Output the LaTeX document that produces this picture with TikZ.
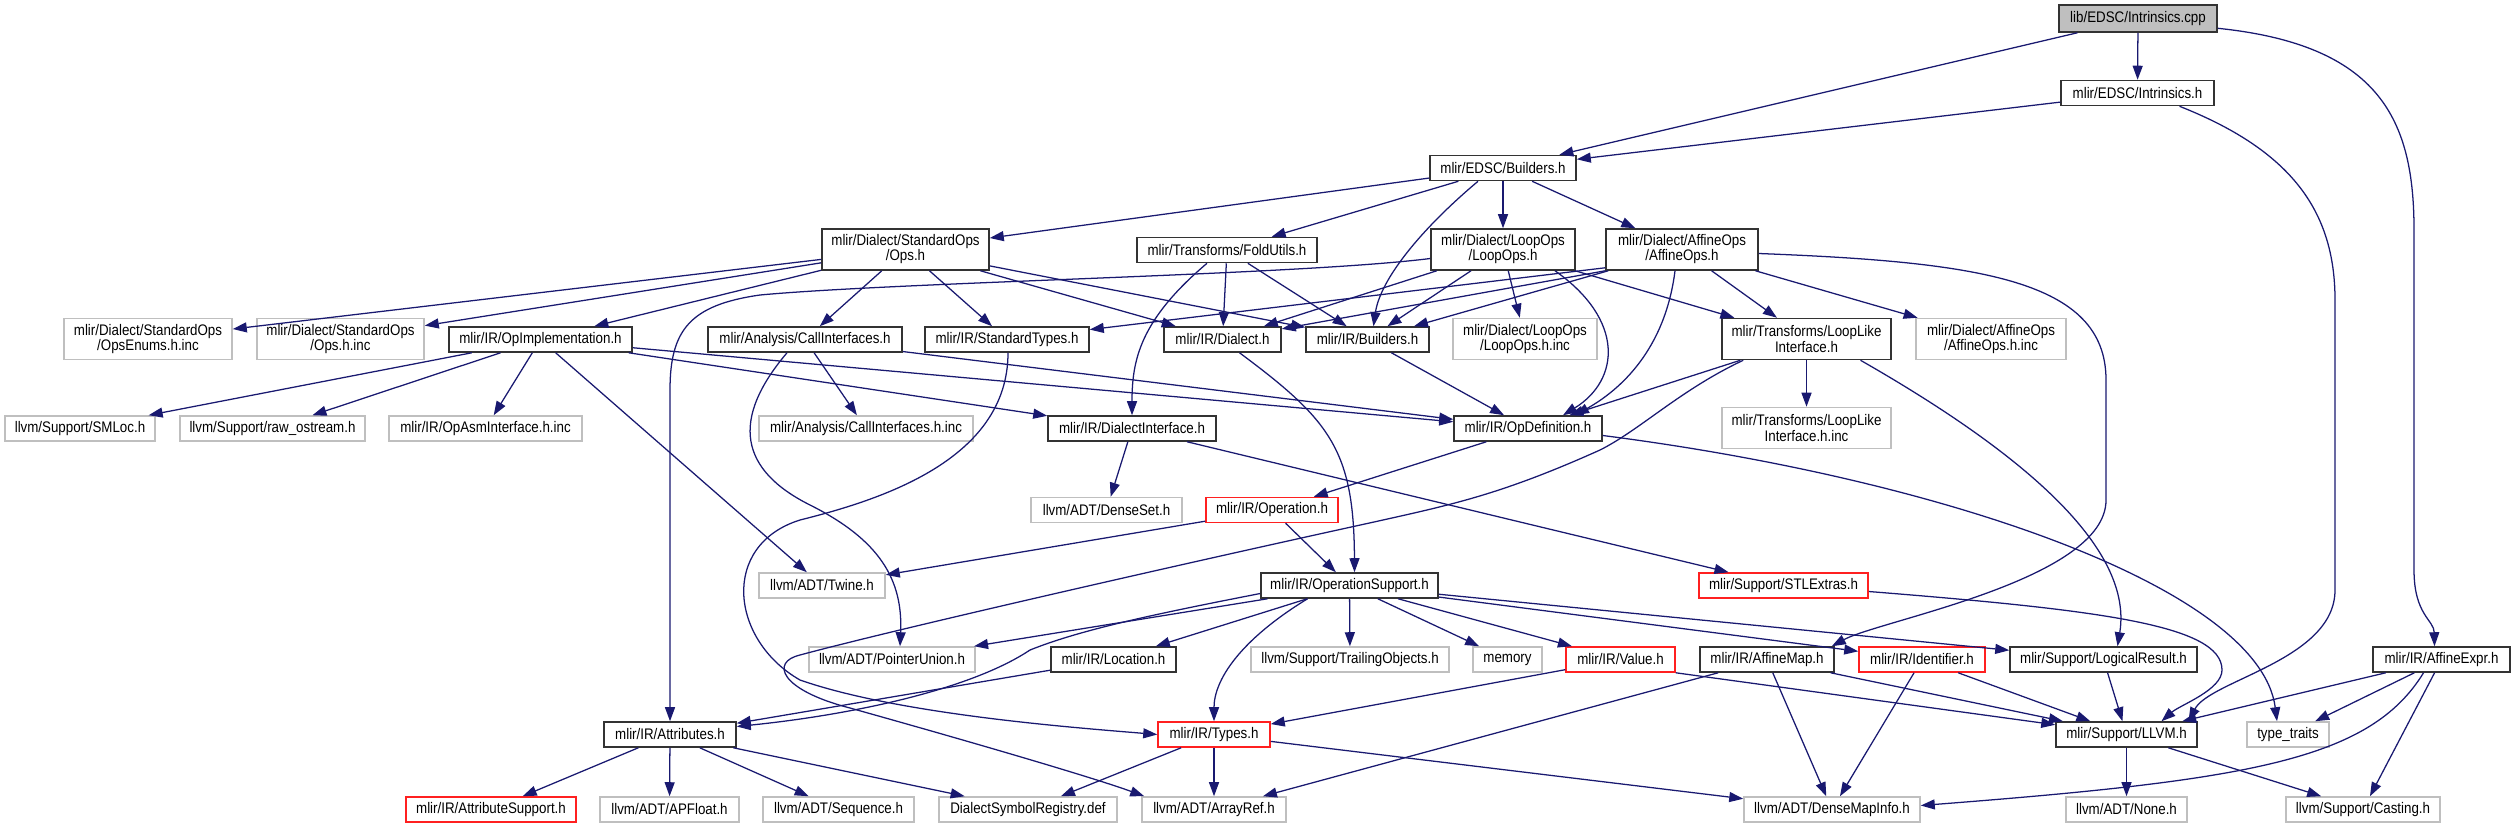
\documentclass[tikz,border=0pt]{standalone}
\usepackage{fontspec}
\newfontfamily\dotsans{Liberation Sans}[FakeStretch=0.87]
\usetikzlibrary{arrows.meta,calc}
\definecolor{cedge}{HTML}{191970}
\definecolor{cgray}{HTML}{BFBFBF}
\definecolor{cred}{HTML}{FF2020}
\definecolor{cfrm}{HTML}{333333}
\tikzset{
  hfile/.style={rectangle, draw=cfrm, fill=white, line width=1.1pt, inner sep=0pt,
                align=center, minimum height=6.25mm, font={\dotsans\fontsize{10.9pt}{10.7pt}\selectfont}},
  sysinc/.style={hfile, draw=cgray},
  cut/.style={hfile, draw=cred},
  rootfile/.style={hfile, fill=cgray, minimum height=6.75mm},
  dbl/.style={minimum height=10.25mm},
  wd/.style={minimum width=#1*0.25mm},
  dep/.style={-{Triangle[length=3.5mm,width=2.5mm]}, draw=cedge, line width=0.9pt}
}
\begin{document}
\begin{tikzpicture}[x=0.25mm, y=-0.25mm]
\useasboundingbox (0,0) rectangle (2516,828);
\node[rootfile, wd=158] (cpp) at (2138,18.5) {lib/EDSC/Intrinsics.cpp};
\node[hfile, wd=153] (intr) at (2137.5,93) {mlir/EDSC/Intrinsics.h};
\node[hfile, wd=146] (eb) at (1503,168) {mlir/EDSC/Builders.h};
\node[hfile, dbl, wd=167] (sops) at (905.5,249.5) {mlir/Dialect/StandardOps\\/Ops.h};
\node[hfile, wd=180] (fold) at (1227,250) {mlir/Transforms/FoldUtils.h};
\node[hfile, dbl, wd=144] (lops) at (1503,249.5) {mlir/Dialect/LoopOps\\/LoopOps.h};
\node[hfile, dbl, wd=152] (aops) at (1682,249.5) {mlir/Dialect/AffineOps\\/AffineOps.h};
\node[sysinc, dbl, wd=168] (enums) at (148,339) {mlir/Dialect/StandardOps\\/OpsEnums.h.inc};
\node[sysinc, dbl, wd=167] (opsinc) at (340.5,339) {mlir/Dialect/StandardOps\\/Ops.h.inc};
\node[hfile, wd=183] (oimpl) at (540.5,339.5) {mlir/IR/OpImplementation.h};
\node[hfile, wd=194] (calli) at (805,339.5) {mlir/Analysis/CallInterfaces.h};
\node[hfile, wd=164] (stypes) at (1007,339.5) {mlir/IR/StandardTypes.h};
\node[hfile, wd=117] (dial) at (1222.5,339.5) {mlir/IR/Dialect.h};
\node[hfile, wd=123] (irb) at (1367.5,339.5) {mlir/IR/Builders.h};
\node[sysinc, dbl, wd=144] (lopsinc) at (1525,339) {mlir/Dialect/LoopOps\\/LoopOps.h.inc};
\node[hfile, dbl, wd=169] (llike) at (1806.5,339) {mlir/Transforms/LoopLike\\Interface.h};
\node[sysinc, dbl, wd=150] (aopsinc) at (1991,339) {mlir/Dialect/AffineOps\\/AffineOps.h.inc};
\node[sysinc, wd=150] (smloc) at (80,428.5) {llvm/Support/SMLoc.h};
\node[sysinc, wd=185] (rawos) at (272.5,428.5) {llvm/Support/raw\_ostream.h};
\node[sysinc, wd=193] (asminc) at (485.5,428.5) {mlir/IR/OpAsmInterface.h.inc};
\node[sysinc, wd=214] (calliinc) at (866,428.5) {mlir/Analysis/CallInterfaces.h.inc};
\node[hfile, wd=168] (dint) at (1132,428.5) {mlir/IR/DialectInterface.h};
\node[hfile, wd=148] (opdef) at (1528,428.5) {mlir/IR/OpDefinition.h};
\node[sysinc, dbl, wd=169] (llikeinc) at (1806.5,428) {mlir/Transforms/LoopLike\\Interface.h.inc};
\node[sysinc, wd=151] (dset) at (1106.5,510) {llvm/ADT/DenseSet.h};
\node[cut, wd=132] (oper) at (1272,510) {mlir/IR/Operation.h};
\node[sysinc, wd=126] (twine) at (822,585.5) {llvm/ADT/Twine.h};
\node[hfile, wd=177] (opsup) at (1349.5,585.5) {mlir/IR/OperationSupport.h};
\node[cut, wd=169] (stl) at (1783.5,585.5) {mlir/Support/STLExtras.h};
\node[sysinc, wd=166] (punion) at (892,659.5) {llvm/ADT/PointerUnion.h};
\node[hfile, wd=125] (loc) at (1113.5,659.5) {mlir/IR/Location.h};
\node[sysinc, wd=198] (trail) at (1350,659.5) {llvm/Support/TrailingObjects.h};
\node[sysinc, wd=69] (mem) at (1507.5,659.5) {memory};
\node[cut, wd=109] (val) at (1620.5,659.5) {mlir/IR/Value.h};
\node[hfile, wd=134] (amap) at (1767,659.5) {mlir/IR/AffineMap.h};
\node[cut, wd=126] (ident) at (1922,659.5) {mlir/IR/Identifier.h};
\node[hfile, wd=187] (lres) at (2103.5,659.5) {mlir/Support/LogicalResult.h};
\node[hfile, wd=137] (aexpr) at (2441.5,659.5) {mlir/IR/AffineExpr.h};
\node[hfile, wd=132] (attr) at (670,734.5) {mlir/IR/Attributes.h};
\node[cut, wd=112] (types) at (1214,734.5) {mlir/IR/Types.h};
\node[hfile, wd=141] (llvm) at (2126.5,734.5) {mlir/Support/LLVM.h};
\node[sysinc, wd=82] (ttraits) at (2288,734.5) {type\_traits};
\node[cut, wd=170] (asup) at (491,809.5) {mlir/IR/AttributeSupport.h};
\node[sysinc, wd=139] (apf) at (669.5,809.5) {llvm/ADT/APFloat.h};
\node[sysinc, wd=151] (seq) at (838.5,809.5) {llvm/ADT/Sequence.h};
\node[sysinc, wd=178] (dsr) at (1028,809.5) {DialectSymbolRegistry.def};
\node[sysinc, wd=144] (aref) at (1214,809.5) {llvm/ADT/ArrayRef.h};
\node[sysinc, wd=176] (dmi) at (1832,809.5) {llvm/ADT/DenseMapInfo.h};
\node[sysinc, wd=121] (noneh) at (2126.5,809.5) {llvm/ADT/None.h};
\node[sysinc, wd=154] (cast) at (2363,809.5) {llvm/Support/Casting.h};
\draw[dep] (cpp)--(eb);\draw[dep] (cpp)--(intr);\draw[dep] (intr)--(eb);
\draw[dep] (eb)--(sops);\draw[dep] (eb)--(fold);\draw[dep] (eb)--(lops);\draw[dep] (eb)--(aops);
\draw[dep] (sops)--(enums);\draw[dep] (sops)--(opsinc);\draw[dep] (sops)--(oimpl);\draw[dep] (sops)--(calli);
\draw[dep] (sops)--(stypes);\draw[dep] (sops)--(dial);\draw[dep] (sops)--(irb);
\draw[dep] (fold)--(dial);\draw[dep] (fold)--(irb);
\draw[dep] (lops)--(dial);\draw[dep] (lops)--(irb);\draw[dep] (lops)--(lopsinc);\draw[dep] (lops)--(llike);
\draw[dep] ($(aops.south west)+(0,-3)$)--(stypes);\draw[dep] (aops.south west)--(dial);\draw[dep] ($(aops.south west)+(3,0)$)--(irb);
\draw[dep] (aops)--(llike);\draw[dep] (aops)--(aopsinc);
\draw[dep] (oimpl)--(smloc);\draw[dep] (oimpl)--(rawos);\draw[dep] (oimpl)--(asminc);\draw[dep] (oimpl)--(twine);
\draw[dep] (oimpl)--(dint);\draw[dep] (oimpl)--(opdef);
\draw[dep] (calli)--(calliinc);\draw[dep] (calli)--(opdef);\draw[dep] (irb)--(opdef);
\draw[dep] (llike)--(opdef);\draw[dep] (llike)--(llikeinc);
\draw[dep] (dint)--(dset);\draw[dep] (dint)--(stl);\draw[dep] (opdef)--(oper);
\draw[dep] (oper)--(twine);\draw[dep] (oper)--(opsup);
\draw[dep] (opsup)--(punion);\draw[dep] (opsup)--(loc);\draw[dep] (opsup)--(trail);\draw[dep] (opsup)--(mem);
\draw[dep] (opsup)--(val);\draw[dep] (opsup)--(ident);\draw[dep] (opsup)--(lres);
\draw[dep] (loc)--(attr);\draw[dep] (val)--(types);\draw[dep] (val.south east)--(llvm);
\draw[dep] (amap)--(aref);\draw[dep] (amap)--(dmi);\draw[dep] (amap)--(llvm);
\draw[dep] (ident)--(dmi);\draw[dep] (ident)--(llvm);\draw[dep] (lres)--(llvm);
\draw[dep] (aexpr)--(llvm);\draw[dep] (aexpr)--(ttraits);\draw[dep] (aexpr)--(cast);
\draw[dep] (attr)--(asup);\draw[dep] (attr)--(apf);\draw[dep] (attr)--(seq);\draw[dep] (attr)--(dsr);
\draw[dep] (types)--(dsr);\draw[dep] (types)--(aref);\draw[dep] (types)--(dmi);
\draw[dep] (llvm)--(noneh);\draw[dep] (llvm)--(cast);
\draw[dep] (cpp.-7) .. controls (2380,45) and (2414,120) .. (2414,230) -- (2414,570) .. controls (2414,615) and (2434,620) .. ($(aexpr.north)+(-7,0)$);
\draw[dep] ($(intr.south)+(42,0)$) .. controls (2290,150) and (2335,210) .. (2335,300) -- (2335,590) .. controls (2335,660) and (2210,680) .. ($(llvm.north)+(62,0)$);
\draw[dep] ($(aops.east)+(0,4)$) .. controls (1980,262) and (2106,280) .. (2106,380) -- (2106,500) .. controls (2106,580) and (1880,620) .. ($(amap.north east)+(-3,0)$);
\draw[dep] ($(llike.south)+(54,0)$) .. controls (2000,440) and (2135,540) .. ($(lres.north)+(14,0)$);
\draw[dep] ($(opdef.east)+(0,7)$) .. controls (1950,480) and (2260,590) .. ($(ttraits.north)+(-11,0)$);
\draw[dep] ($(stl.east)+(0,6)$) .. controls (2100,610) and (2222,625) .. (2222,670) .. controls (2222,690) and (2180,705) .. ($(llvm.north)+(35,0)$);
\draw[dep] ($(eb.south)+(-25,0)$) .. controls (1420,230) and (1380,280) .. ($(irb.north)+(6,0)$);
\draw[dep] ($(fold.south)+(-20,0)$) .. controls (1140,320) and (1132,360) .. (dint.north);
\draw[dep] ($(lops.south)+(52,0)$) .. controls (1625,320) and (1620,380) .. ($(opdef.north)+(35,0)$);
\draw[dep] ($(aops.south)+(-7,0)$) .. controls (1665,350) and (1620,390) .. ($(opdef.north)+(47,0)$);
\draw[dep] ($(lops.west)+(0,9)$) .. controls (1300,275) and (900,282) .. (760,295) .. controls (690,305) and (670,330) .. (670,390) -- (attr.north);
\draw[dep] ($(stypes.south)+(1,0)$) .. controls (1008,460) and (880,500) .. (800,520) .. controls (720,545) and (730,640) .. (800,680) .. controls (900,715) and (1080,728) .. (types.west);
\draw[dep] ($(calli.south)+(-18,0)$) .. controls (730,420) and (740,470) .. (810,505) .. controls (880,540) and (903,580) .. ($(punion.north)+(8,0)$);
\draw[dep] ($(dial.south)+(17,0)$) .. controls (1330,420) and (1354,450) .. ($(opsup.north)+(5,0)$);
\draw[dep] ($(opsup.south)+(-42,0)$) .. controls (1240,640) and (1214,680) .. (types.north);
\draw[dep] ($(opsup.west)+(0,8)$) .. controls (1150,615) and (1080,630) .. (1030,650) .. controls (970,690) and (850,715) .. ($(attr.east)+(0,-8)$);
\draw[dep] ($(llike.south west)+(22,0)$) .. controls (1680,390) and (1640,430) .. (1600,450) .. controls (1500,495) and (1450,505) .. (1374,522) .. controls (1200,560) and (900,628) .. (800,655) .. controls (770,662) and (780,690) .. (850,708) .. controls (1000,750) and (1100,780) .. ($(aref.north west)+(3,0)$);
\draw[dep] ($(aexpr.south)+(-18,0)$) .. controls (2370,760) and (2250,780) .. ($(dmi.east)+(0,-4)$);
\end{tikzpicture}
\end{document}
